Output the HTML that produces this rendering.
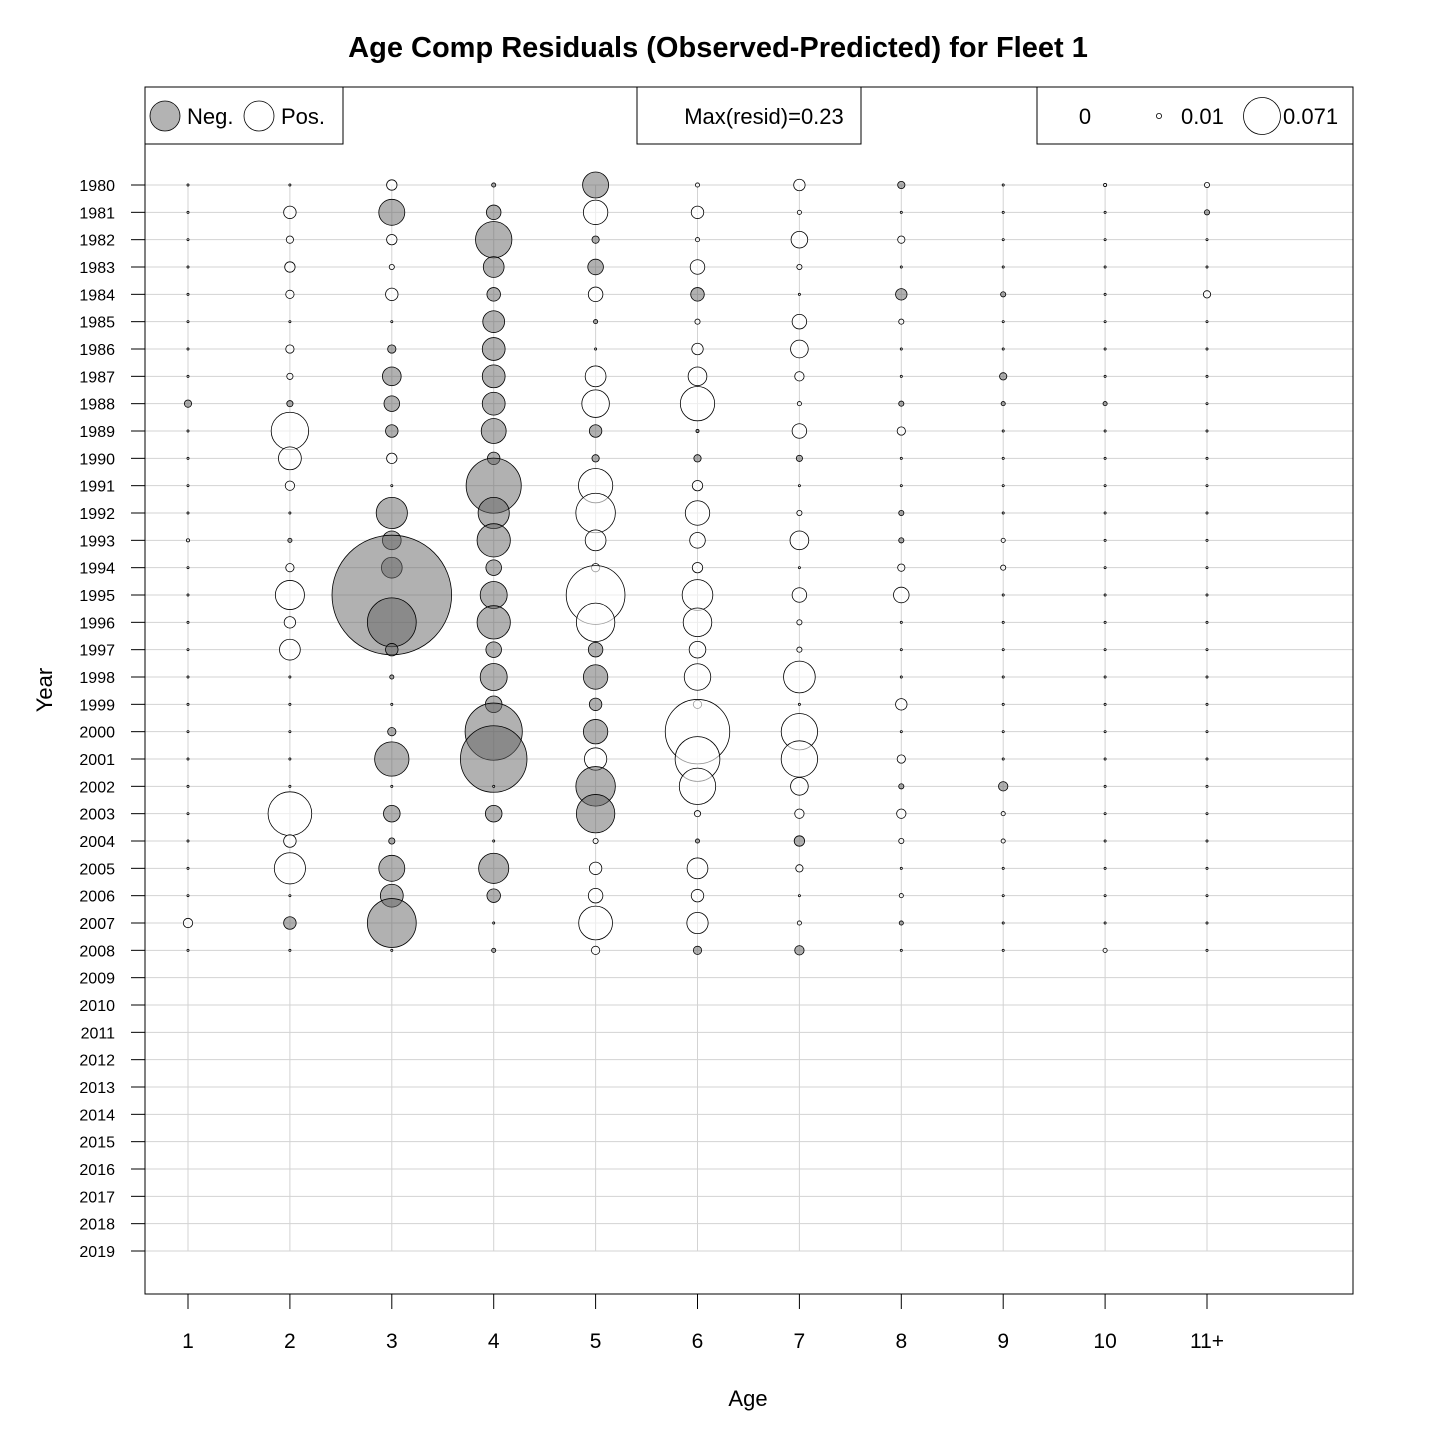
<!DOCTYPE html>
<html><head><meta charset="utf-8"><style>
html,body{margin:0;padding:0;background:#fff;}
svg{display:block;font-family:"Liberation Sans",Arial,sans-serif;}
</style></head><body>
<svg id="chart" width="1440" height="1440" viewBox="0 0 1440 1440" xmlns="http://www.w3.org/2000/svg">
<rect x="0" y="0" width="1440" height="1440" fill="#fff"/>
<text x="718" y="57" text-anchor="middle" font-size="29" font-weight="bold">Age Comp Residuals (Observed-Predicted) for Fleet 1</text>
<g id="grid"></g>
<g id="bubbles"></g>
<rect x="145" y="87" width="1208" height="1207" fill="none" stroke="#000" stroke-width="1"/>
<g id="axes"></g>
<g>
<rect x="145" y="87" width="198" height="57" fill="#fff" stroke="#000"/>
<circle cx="165" cy="116" r="15" fill="#b3b3b3" stroke="#000" stroke-width="0.8"/>
<text x="187" y="124" font-size="22">Neg.</text>
<circle cx="259" cy="116" r="15" fill="#fff" stroke="#000" stroke-width="0.8"/>
<text x="281" y="124" font-size="22">Pos.</text>
</g>
<g>
<rect x="637" y="87" width="224" height="57" fill="#fff" stroke="#000"/>
<text x="764" y="124" font-size="22" text-anchor="middle">Max(resid)=0.23</text>
</g>
<g>
<rect x="1037" y="87" width="316" height="57" fill="#fff" stroke="#000"/>
<text x="1085" y="124" font-size="22" text-anchor="middle">0</text>
<circle cx="1159" cy="116" r="2.6" fill="#fff" stroke="#000" stroke-width="0.8"/>
<text x="1181" y="124" font-size="22">0.01</text>
<circle cx="1262" cy="116" r="18.5" fill="#fff" stroke="#000" stroke-width="0.8"/>
<text x="1283" y="124" font-size="22">0.071</text>
</g>
<text x="748" y="1406" text-anchor="middle" font-size="22">Age</text>
<text x="52" y="690" text-anchor="middle" font-size="22" transform="rotate(-90 52 690)">Year</text>
</svg>
<script>
const ages = ["1","2","3","4","5","6","7","8","9","10","11+"];
const years = [];
for (let y = 1980; y <= 2019; y++) years.push(y);
const dataYears = [];
for (let y = 1980; y <= 2008; y++) dataYears.push(y);
const age1 = [.004,.004,.004,.004,.004,.004,.004,.004,-.014,.004,.004,.004,.004,.006,.004,.004,.004,.004,.004,.004,.004,.004,.004,.004,.004,.004,.004,.018,.004];
const age2 = [.004,.024,.014,.02,.016,.004,.016,.012,-.012,.072,.044,.018,.004,-.008,.016,.056,.022,.04,.004,.004,.004,.004,.004,.084,.024,.06,.004,-.024,.004];
const age3 = [.02,-.05,.02,.01,.024,.004,-.016,-.036,-.03,-.024,.02,.004,-.06,-.036,-.04,-.23,-.094,-.024,-.008,.004,-.016,-.066,.004,-.032,-.012,-.05,-.044,-.094,.004];
const age4 = [-.008,-.028,-.07,-.04,-.026,-.042,-.044,-.044,-.044,-.048,-.024,-.106,-.06,-.064,-.03,-.052,-.064,-.03,-.052,-.032,-.11,-.128,.004,-.032,.004,-.058,-.026,.004,-.008];
const age5 = [-.05,.047,-.014,-.03,.028,-.008,.004,.04,.053,-.024,-.014,.066,.076,.04,.016,.113,.074,-.028,-.047,-.024,-.047,.043,-.076,-.074,.01,.024,.028,.065,.016];
const age6 = [.008,.024,.008,.028,-.026,.01,.022,.036,.066,-.006,-.014,.02,.047,.03,.02,.059,.055,.032,.051,.016,.124,.086,.07,.012,-.008,.04,.024,.041,-.016];
const age7 = [.022,.008,.032,.01,.004,.028,.034,.018,.008,.028,-.012,.004,.01,.036,.004,.028,.01,.01,.061,.004,.07,.07,.034,.018,-.02,.014,.004,.008,-.018];
const age8 = [-.014,.004,.014,.004,-.022,.01,.004,.004,-.01,.016,.004,.004,-.01,-.01,.014,.03,.004,.004,.004,.022,.004,.016,-.01,.018,.01,.004,.008,-.008,.004];
const age9 = [.004,.004,.004,.004,-.01,.004,.004,-.014,-.008,.004,.004,.004,.004,.008,.01,.004,.004,.004,.004,.004,.004,.004,-.018,.008,.008,.004,.004,.004,.004];
const age10 = [.006,.004,.004,.004,.004,.004,.004,.004,-.008,.004,.004,.004,.004,.004,.004,.004,.004,.004,.004,.004,.004,.004,.004,.004,.004,.004,.004,.004,.008];
const age11 = [.01,-.01,.004,.004,.014,.004,.004,.004,.004,.004,.004,.004,.004,.004,.004,.004,.004,.004,.004,.004,.004,.004,.004,.004,.004,.004,.004,.004,.004];
const series = [age1,age2,age3,age4,age5,age6,age7,age8,age9,age10,age11];

const NS = "http://www.w3.org/2000/svg";
function xScale(i){ return 188 + i * 101.9; }
function yScale(yr){ return 185 + (yr - 1980) * (1066 / 39); }
function rScale(v){ return Math.max(Math.abs(v), 0.003) * 260; }
function mk(tag, attrs, parent){
  const e = document.createElementNS(NS, tag);
  for (const k in attrs) e.setAttribute(k, attrs[k]);
  parent.appendChild(e); return e;
}
const grid = document.getElementById('grid');
const axes = document.getElementById('axes');
const bub = document.getElementById('bubbles');

years.forEach(yr => {
  const y = yScale(yr);
  const l = mk('line', {x1:145, x2:1353, y1:y, y2:y, stroke:'#d3d3d3', 'stroke-width':1}, grid);
  
  
  const t = mk('line', {x1:131, x2:145, y1:y, y2:y, stroke:'#000', 'stroke-width':1}, axes);
  
  
  const tx = mk('text', {x:115, y:y+6, 'text-anchor':'end', 'font-size':16}, axes);
  tx.textContent = yr;
  
  
});
ages.forEach((a, i) => {
  const x = xScale(i);
  const l = mk('line', {x1:x, x2:x, y1:yScale(1980), y2:yScale(2019), stroke:'#d3d3d3', 'stroke-width':1}, grid);
  
  
  const t = mk('line', {x1:x, x2:x, y1:1294, y2:1309, stroke:'#000', 'stroke-width':1}, axes);
  
  
  const tx = mk('text', {x:x, y:1348, 'text-anchor':'middle', 'font-size':21}, axes);
  tx.textContent = a;
  
  
});
series.forEach((vals, i) => {
  vals.forEach((v, j) => {
    const c = mk('circle', {cx:xScale(i), cy:yScale(dataYears[j]), r:rScale(v),
      fill: v < 0 ? 'rgba(100,100,100,0.5)' : 'rgba(255,255,255,0.6)',
      stroke:'#000', 'stroke-width':0.8}, bub);
    
    
  });
});
</script>
</body></html>
